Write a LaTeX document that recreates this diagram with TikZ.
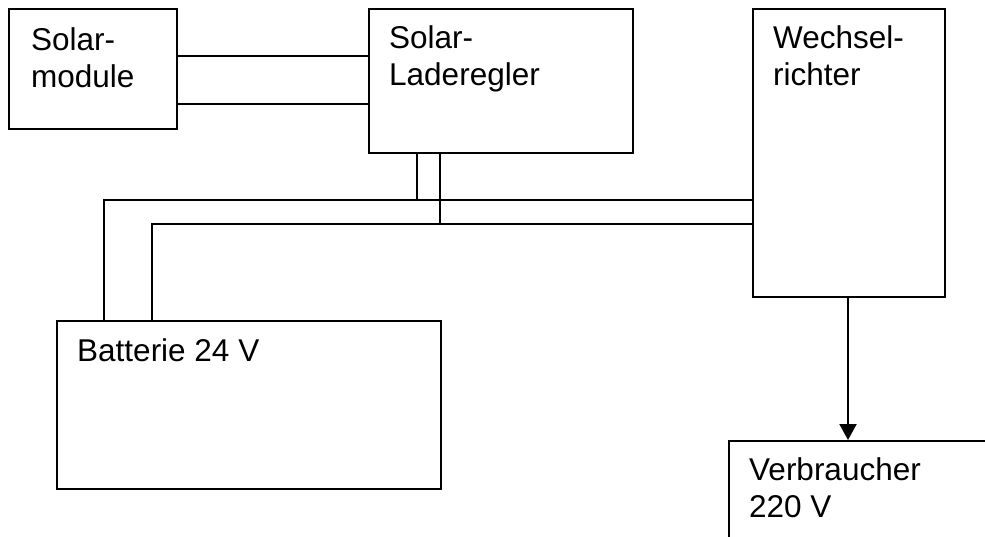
\documentclass[tikz,border=0pt]{standalone}
\usepackage{fontspec}
\setmainfont{Liberation Sans}
\usetikzlibrary{arrows.meta}
\begin{document}
\begin{tikzpicture}[x=1pt,y=-1pt,
  box/.style={draw, line width=2pt, inner sep=0pt, anchor=north west},
  lbl/.style={anchor=base west, inner sep=0pt, align=left, font=\fontsize{31.5}{37}\selectfont},
  wire/.style={line width=2pt},
  every path/.style={line join=miter}]
\useasboundingbox (0,0) rectangle (985,536);
% boxes
\node[box, minimum width=168.5pt, minimum height=120.5pt] (sm) at (7.5,7.5) {};
\node[box, minimum width=264pt, minimum height=144pt] (lr) at (368,8) {};
\node[box, minimum width=192pt, minimum height=288pt] (wr) at (752,8) {};
\node[box, minimum width=384pt, minimum height=168pt] (bat) at (56,320) {};
\node[box, minimum width=280pt, minimum height=120pt] (vb) at (728,440) {};
% labels (anchored at baseline of last line)
\node[lbl] (smt) at (31,87) {Solar-\\module};
\node[lbl] (lrt) at (389,85) {Solar-\\Laderegler};
\node[lbl] (wrt) at (773,85) {Wechsel-\\richter};
\node[lbl] (batt) at (77,361) {Batterie 24 V};
\node[lbl] (vbt) at (749,517) {Verbraucher\\220 V};
% wires
\draw[wire] (sm.east |- 0,56) -- (lr.west |- 0,56);
\draw[wire] (sm.east |- 0,104) -- (lr.west |- 0,104);
\draw[wire] (bat.north -| 104,0) -- (104,200) -- (wr.west |- 0,200);
\draw[wire] (bat.north -| 152,0) -- (152,224) -- (wr.west |- 0,224);
\draw[wire] (lr.south -| 417,0) -- (417,200);
\draw[wire] (lr.south -| 440,0) -- (440,224);
\draw[wire, -{Triangle[width=17pt,length=16pt]}] (wr.south -| 848,0) -- (vb.north -| 848,0);
\end{tikzpicture}
\end{document}
